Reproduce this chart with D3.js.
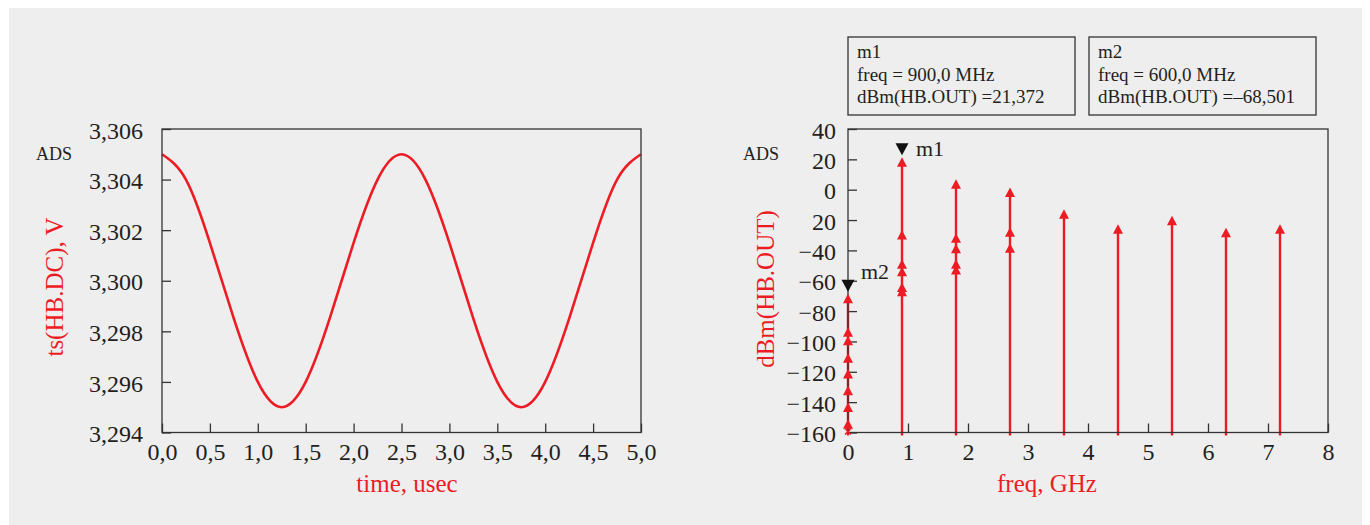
<!DOCTYPE html>
<html>
<head>
<meta charset="utf-8">
<script src="https://cdn.jsdelivr.net/npm/d3@7"></script>
<style>
  body { margin: 0; background: #fff; }
  text { font-family: "Liberation Serif", "Times New Roman", serif; fill: #231f20; }
</style>
</head>
<body>
<div id="chart"></div>
<script>
// left panel: ts(HB.DC) against time
var timeUs = [0, 0.25, 0.5, 0.75, 1.0, 1.25, 1.5, 1.75, 2.0, 2.25, 2.5, 2.75, 3.0, 3.25, 3.5, 3.75, 4.0, 4.25, 4.5, 4.75, 5.0]
var voltage = [3.3050, 3.3040, 3.3015, 3.2985, 3.2960, 3.2950, 3.2960, 3.2985, 3.3015, 3.3040, 3.3050,
               3.3040, 3.3015, 3.2985, 3.2960, 3.2950, 3.2960, 3.2985, 3.3015, 3.3040, 3.3050]
var timeTicks = [0, 0.5, 1.0, 1.5, 2.0, 2.5, 3.0, 3.5, 4.0, 4.5, 5.0]
var timeTickLabels = ["0,0", "0,5", "1,0", "1,5", "2,0", "2,5", "3,0", "3,5", "4,0", "4,5", "5,0"]
var voltTicks = [3.294, 3.296, 3.298, 3.300, 3.302, 3.304, 3.306]
var voltTickLabels = ["3,294", "3,296", "3,298", "3,300", "3,302", "3,304", "3,306"]

// right panel: spectrum dBm(HB.OUT)
var specFreq = [0, 0, 0, 0, 0, 0, 0, 0,
                0.9, 0.9, 0.9, 0.9, 0.9, 0.9,
                1.8, 1.8, 1.8, 1.8, 1.8,
                2.7, 2.7, 2.7,
                3.6, 4.5, 5.4, 6.3, 7.2]
var specDbm = [-68.5, -90.6, -96.3, -107.7, -118.2, -129.2, -140.2, -151.2,
               21.4, -26.5, -45.8, -50.7, -61.2, -63.9,
               6.9, -28.7, -35.7, -45.8, -49.6,
               1.5, -24.7, -35.3,
               -12.9, -22.8, -17.1, -25.0, -22.8]
var floorFreq = [0]
var floorDbm = [-160]
var freqTicks = [0, 1, 2, 3, 4, 5, 6, 7, 8]
var freqTickLabels = ["0", "1", "2", "3", "4", "5", "6", "7", "8"]
var dbmTicks = [40, 20, 0, -20, -40, -60, -80, -100, -120, -140, -160]
var dbmTickLabels = ["40", "20", "0", "20", "\u221240", "\u221260", "\u221280", "\u2212100", "\u2212120", "\u2212140", "\u2212160"]

// markers
var markerName = ["m1", "m2"]
var markerFreq = [0.9, 0]
var markerDbm = [21.372, -68.501]
var markerBoxText = [
  ["m1", "freq = 900,0 MHz", "dBm(HB.OUT) =21,372"],
  ["m2", "freq = 600,0 MHz", "dBm(HB.OUT) =\u201368,501"]
]

var red = "#ed1c24"
var ink = "#231f20"

var svg = d3.select("#chart").append("svg")
  .attr("width", 1370)
  .attr("height", 525)

svg.append("rect")
  .attr("x", 9).attr("y", 8)
  .attr("width", 1353).attr("height", 517)
  .attr("fill", "#eeeeee")

var plotTop = 129, plotBottom = 432.5

// ---------- left chart ----------
var x1 = d3.scaleLinear().domain([0, 5]).range([162, 641])
var y1 = d3.scaleLinear().domain([3.294, 3.306]).range([plotBottom, plotTop])

var gx1 = svg.append("g")
  .attr("transform", "translate(0," + plotBottom + ")")
  .call(d3.axisBottom(x1).tickValues(timeTicks)
    .tickFormat(function(d, i) { return timeTickLabels[i] })
    .tickSize(-9).tickSizeOuter(0).tickPadding(10))
var gy1 = svg.append("g")
  .attr("transform", "translate(" + x1(0) + ",0)")
  .call(d3.axisLeft(y1).tickValues(voltTicks)
    .tickFormat(function(d, i) { return voltTickLabels[i] })
    .tickSize(-9).tickSizeOuter(0).tickPadding(19))

var line1 = d3.line()
  .x(function(d, i) { return x1(timeUs[i]) })
  .y(function(d) { return y1(d) })
  .curve(d3.curveNatural)

svg.append("path")
  .datum(voltage)
  .attr("d", line1)
  .attr("fill", "none")
  .attr("stroke", red)
  .attr("stroke-width", 2.6)

svg.append("rect")
  .attr("x", x1(0)).attr("y", plotTop)
  .attr("width", x1(5) - x1(0)).attr("height", plotBottom - plotTop)
  .attr("fill", "none").attr("stroke", "#333").attr("stroke-width", 1.3)

svg.append("text").attr("x", 36).attr("y", 160)
  .style("font-size", "18px").text("ADS")

svg.append("text")
  .attr("transform", "translate(63,287) rotate(-90)")
  .attr("text-anchor", "middle")
  .style("font-size", "25px").style("fill", red)
  .text("ts(HB.DC), V")

svg.append("text")
  .attr("x", 407).attr("y", 492)
  .attr("text-anchor", "middle")
  .style("font-size", "25px").style("fill", red)
  .text("time, usec")

// ---------- right chart ----------
var x2 = d3.scaleLinear().domain([0, 8]).range([848, 1328])
var y2 = d3.scaleLinear().domain([-160, 40]).range([plotBottom, plotTop])

var gx2 = svg.append("g")
  .attr("transform", "translate(0," + plotBottom + ")")
  .call(d3.axisBottom(x2).tickValues(freqTicks)
    .tickFormat(function(d, i) { return freqTickLabels[i] })
    .tickSize(-9).tickSizeOuter(0).tickPadding(10))
var gy2 = svg.append("g")
  .attr("transform", "translate(" + x2(0) + ",0)")
  .call(d3.axisLeft(y2).tickValues(dbmTicks)
    .tickFormat(function(d, i) { return dbmTickLabels[i] })
    .tickSize(-9).tickSizeOuter(0).tickPadding(12))

svg.selectAll(".domain").remove()
svg.selectAll(".tick line").attr("stroke", "#333").attr("stroke-width", 1.3)
svg.selectAll(".tick text").style("font-size", "24px").style("fill", ink)
  .style("font-family", "Liberation Serif, serif")
gy1.selectAll(".tick text").attr("dy", "0.38em")
gy2.selectAll(".tick text").attr("dy", "0.38em")

// spectral lines: one per frequency, from the floor to the highest tone
var peaks = d3.rollup(d3.range(specFreq.length), function(v) {
  return d3.max(v, function(i) { return specDbm[i] })
}, function(i) { return specFreq[i] })

svg.append("g").selectAll("line")
  .data(Array.from(peaks))
  .enter().append("line")
  .attr("x1", function(d) { return x2(d[0]) })
  .attr("x2", function(d) { return x2(d[0]) })
  .attr("y1", plotBottom + 3)
  .attr("y2", function(d) { return y2(d[1]) + 4 })
  .attr("stroke", red)
  .attr("stroke-width", 2.4)

svg.append("rect")
  .attr("x", x2(0)).attr("y", plotTop)
  .attr("width", x2(8) - x2(0)).attr("height", plotBottom - plotTop)
  .attr("fill", "none").attr("stroke", "#333").attr("stroke-width", 1.3)

// arrow heads, tip on the value
svg.append("g").selectAll("path")
  .data(specDbm)
  .enter().append("path")
  .attr("d", function(d, i) {
    var cx = x2(specFreq[i]), cy = y2(d)
    return "M" + cx + "," + cy + "L" + (cx + 5) + "," + (cy + 9.5) + "L" + (cx - 5) + "," + (cy + 9.5) + "Z"
  })
  .attr("fill", red)

// floor marker (x)
svg.append("g").selectAll("path")
  .data(floorDbm)
  .enter().append("path")
  .attr("d", function(d, i) {
    var cx = x2(floorFreq[i]), cy = y2(d) - 1
    return "M" + (cx - 3) + "," + (cy - 3) + "L" + (cx + 3) + "," + (cy + 3) +
           "M" + (cx + 3) + "," + (cy - 3) + "L" + (cx - 3) + "," + (cy + 3)
  })
  .attr("stroke", red).attr("stroke-width", 1.5)

// markers
var markerLabelDx = [14, 13]
var markerLabelDy = [1, -13]
markerName.forEach(function(name, i) {
  var cx = x2(markerFreq[i]), cy = y2(markerDbm[i]) - 2
  svg.append("path")
    .attr("d", "M" + cx + "," + cy + "L" + (cx + 6.5) + "," + (cy - 12) + "L" + (cx - 6.5) + "," + (cy - 12) + "Z")
    .attr("fill", "#111")
  svg.append("text")
    .attr("x", cx + markerLabelDx[i])
    .attr("y", cy + markerLabelDy[i])
    .style("font-size", "22px")
    .text(name)
})

svg.append("text").attr("x", 743).attr("y", 160)
  .style("font-size", "18px").text("ADS")

svg.append("text")
  .attr("transform", "translate(774,289) rotate(-90)")
  .attr("text-anchor", "middle")
  .style("font-size", "25px").style("fill", red)
  .text("dBm(HB.OUT)")

svg.append("text")
  .attr("x", 1047).attr("y", 492)
  .attr("text-anchor", "middle")
  .style("font-size", "25px").style("fill", red)
  .text("freq, GHz")

// marker readout boxes
var boxX = [848, 1089]
markerBoxText.forEach(function(lines, i) {
  var g = svg.append("g").attr("transform", "translate(" + boxX[i] + ",37)")
  g.append("rect")
    .attr("width", 227).attr("height", 78)
    .attr("fill", "none").attr("stroke", "#333").attr("stroke-width", 1.3)
  lines.forEach(function(t, j) {
    g.append("text")
      .attr("x", 9).attr("y", 21 + j * 22.5)
      .style("font-size", "19px")
      .text(t)
  })
})
</script>
</body>
</html>
